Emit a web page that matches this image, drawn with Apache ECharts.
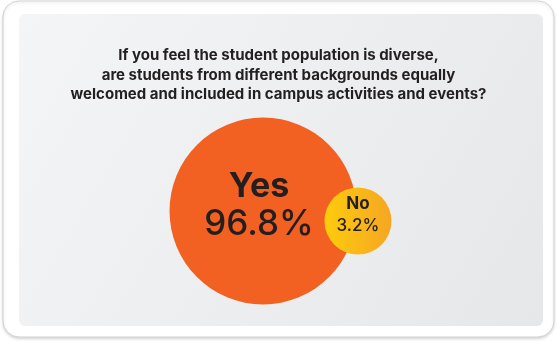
<!DOCTYPE html>
<html>
<head>
<meta charset="utf-8">
<style>
  html, body { margin: 0; padding: 0; background: #ffffff; }
  #chart { width: 557px; height: 341px; }
</style>
<script src="https://cdn.jsdelivr.net/npm/echarts@6/dist/echarts.min.js"></script>
</head>
<body>
<div id="chart"></div>
<script>
// Survey answers and their shares (percent)
const answers = ['Yes', 'No'];
const shares = [96.8, 3.2];
const titleLines = [
  'If you feel the student population is diverse,',
  'are students from different backgrounds equally',
  'welcomed and included in campus activities and events?'
];

const FONT = 'Inter, "Noto Sans", sans-serif';
const INK = '#231f20';

// Bubble radius grows with the share (softened power scale)
function radiusOf(v) { return 23.6 * Math.pow(v, 0.301); }

const chart = echarts.init(document.getElementById('chart'), null, { renderer: 'canvas' });

const bubbleStyles = [
  {
    fill: '#f26122',
    nameSize: 34, nameWeight: 700,
    valueSize: 35, valueWeight: 500,
    dx: -4, nameDy: -24, valueDy: 13
  },
  {
    fill: new echarts.graphic.LinearGradient(0, 0, 1, 0, [
      { offset: 0, color: '#fdcc0c' },
      { offset: 1, color: '#f6a623' }
    ]),
    nameSize: 17, nameWeight: 700,
    valueSize: 17, valueWeight: 500,
    dx: 0, nameDy: -17, valueDy: 5
  }
];

const option = {
  animation: false,
  backgroundColor: '#ffffff',
  graphic: [
    {
      type: 'rect', z: -10, silent: true,
      shape: { x: 3, y: 1, width: 551, height: 336, r: 16 },
      style: {
        fill: '#ffffff', stroke: '#d3d3d3', lineWidth: 1,
        shadowColor: 'rgba(0,0,0,0.14)', shadowBlur: 3, shadowOffsetY: 1.5
      }
    },
    {
      type: 'rect', z: -9, silent: true,
      shape: { x: 19, y: 14, width: 524, height: 312, r: 6 },
      style: {
        fill: new echarts.graphic.LinearGradient(0, 0, 1, 1, [
          { offset: 0, color: '#f3f5f6' },
          { offset: 1, color: '#e6e7e8' }
        ])
      }
    }
  ],
  title: {
    text: titleLines.join('\n'),
    left: 'center',
    top: 41,
    textStyle: {
      fontFamily: FONT, fontSize: 15, fontWeight: 700,
      color: INK, lineHeight: 19.5
    }
  },
  series: [{
    type: 'custom',
    coordinateSystem: 'none',
    data: shares.map((v, i) => ({ name: answers[i], value: v })),
    renderItem: function (params, api) {
      const i = params.dataIndex;
      const v = api.value(0);
      const r = radiusOf(v);
      const rBig = radiusOf(shares[0]);
      const cx0 = 263, cy0 = 211;
      // the minor answer sits on the right rim of the major bubble
      const cx = i === 0 ? cx0 : cx0 + rBig + 1.5;
      const cy = i === 0 ? cy0 : cy0 + 10;
      const s = bubbleStyles[i];
      return {
        type: 'group',
        children: [
          { type: 'circle', shape: { cx: cx, cy: cy, r: r }, style: { fill: s.fill } },
          {
            type: 'text', z2: 10,
            style: {
              text: answers[i], x: cx + s.dx, y: cy + s.nameDy,
              align: 'center', verticalAlign: 'middle',
              font: s.nameWeight + ' ' + s.nameSize + 'px ' + FONT, fill: INK
            }
          },
          {
            type: 'text', z2: 10,
            style: {
              text: v.toFixed(1) + '%', x: cx + s.dx, y: cy + s.valueDy,
              align: 'center', verticalAlign: 'middle',
              font: s.valueWeight + ' ' + s.valueSize + 'px ' + FONT, fill: INK
            }
          }
        ]
      };
    }
  }]
};

chart.setOption(option);
</script>
</body>
</html>
